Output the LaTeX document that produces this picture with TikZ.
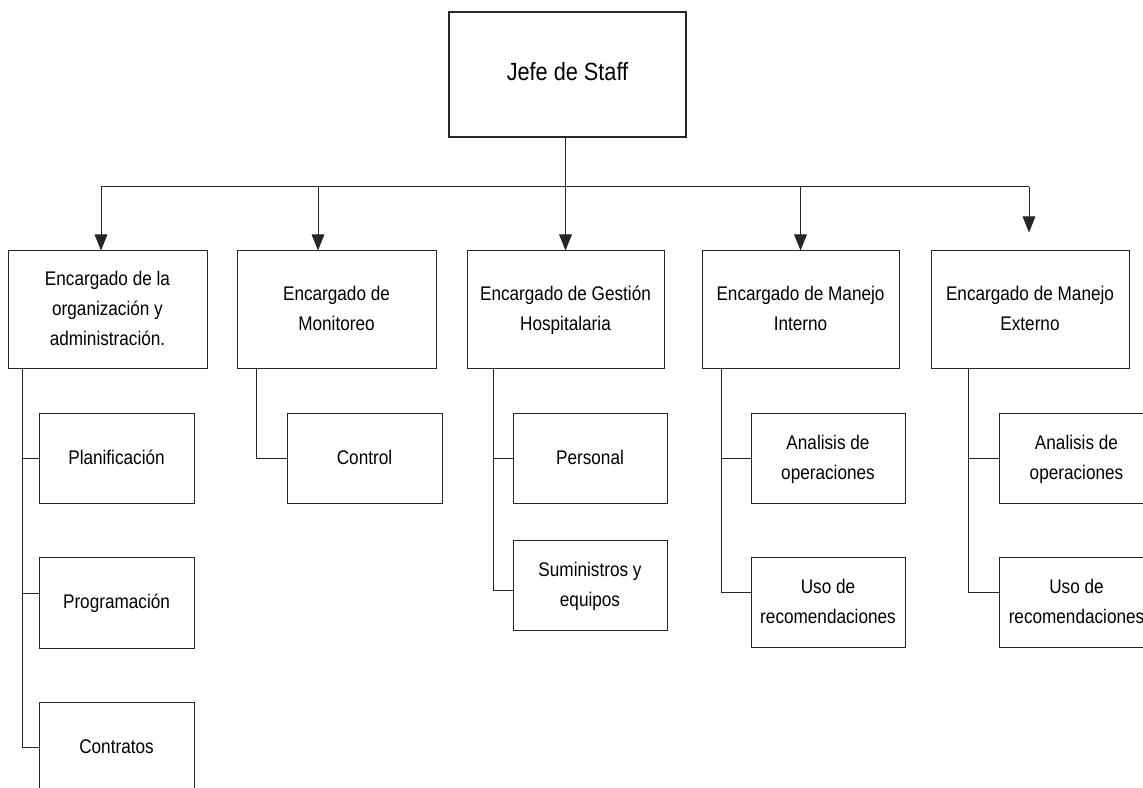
\documentclass[tikz,border=0pt]{standalone}
\usepackage{fontspec}
\setmainfont{Liberation Sans}[FakeStretch=0.87]
\usetikzlibrary{arrows.meta,fit}
% centred stack of lines with uniform row struts
\newcommand{\boxtext}[1]{\begin{tabular}{@{}c@{}}#1\end{tabular}}
\begin{document}
\begin{tikzpicture}[x=0.75pt,y=-0.75pt,
  line/.style={draw=black!85,line width=0.75pt},
  arr/.style={line,-{Triangle[length=12pt,width=9.5pt]}},
  box/.style={line,fill=white,inner sep=0pt},
  headbox/.style={box,line width=1.5pt},
  txt/.style={inner sep=0pt,anchor=center,
    font=\fontsize{14.8}{22.5}\selectfont},
  headtxt/.style={txt,font=\fontsize{18.7}{22.5}\selectfont}]
\useasboundingbox (0,0) rectangle (1143,788);
\clip (0,0) rectangle (1143,788);
\fill[white] (0,0) rectangle (1143,788);

% frames
\node[headbox,fit={(449,12) (686,137)}] (jefe) {};
\node[box,fit={(8,251) (207,368)}] (org) {};
\node[box,fit={(237,251) (436,368)}] (mon) {};
\node[box,fit={(467,251) (664,368)}] (ges) {};
\node[box,fit={(702,251) (899,368)}] (int) {};
\node[box,fit={(931,251) (1129,368)}] (ext) {};
\node[box,fit={(39,413) (194,503)}] (pla) {};
\node[box,fit={(39,557) (194,648)}] (pro) {};
\node[box,fit={(39,702) (194,792)}] (con) {};
\node[box,fit={(287,413) (442,503)}] (ctl) {};
\node[box,fit={(513,413) (667,503)}] (per) {};
\node[box,fit={(513,540) (667,630)}] (sum) {};
\node[box,fit={(751,413) (905,503)}] (ain) {};
\node[box,fit={(751,557) (905,647)}] (uin) {};
\node[box,fit={(999,413) (1154,503)}] (aex) {};
\node[box,fit={(999,557) (1154,647)}] (uex) {};

% labels
\node[headtxt] (jefeT) at (jefe.center) {\boxtext{Jefe de Staff}};
\node[txt] (orgT) at (org.center) {\boxtext{Encargado de la\\organización y\\administración.}};
\node[txt] (monT) at (mon.center) {\boxtext{Encargado de\\Monitoreo}};
\node[txt] (gesT) at (ges.center) {\boxtext{Encargado de Gestión\\Hospitalaria}};
\node[txt] (intT) at (int.center) {\boxtext{Encargado de Manejo\\Interno}};
\node[txt] (extT) at (ext.center) {\boxtext{Encargado de Manejo\\Externo}};
\node[txt] (plaT) at (pla.center) {\boxtext{Planificación}};
\node[txt] (proT) at (pro.center) {\boxtext{Programación}};
\node[txt] (conT) at (con.center) {\boxtext{Contratos}};
\node[txt] (ctlT) at (ctl.center) {\boxtext{Control}};
\node[txt] (perT) at (per.center) {\boxtext{Personal}};
\node[txt] (sumT) at (sum.center) {\boxtext{Suministros y\\equipos}};
\node[txt] (ainT) at (ain.center) {\boxtext{Analisis de\\operaciones}};
\node[txt] (uinT) at (uin.center) {\boxtext{Uso de\\recomendaciones}};
\node[txt] (aexT) at (aex.center) {\boxtext{Analisis de\\operaciones}};
\node[txt] (uexT) at (uex.center) {\boxtext{Uso de\\recomendaciones}};

% distribution bus
\coordinate (b1) at (101,187);
\coordinate (b2) at (318,187);
\coordinate (b5) at (1029,187);
\draw[line] (b1) -- (b5);
\draw[arr] (jefe.south -| ges.north) -- (ges.north);
\draw[arr] (b1) -- (b1 |- org.north);
\draw[arr] (b2) -- (b2 |- mon.north);
\draw[arr] (int.north |- b1) -- (int.north);
\draw[arr] (b5) -- ([yshift=13.5pt]b5 |- ext.north);

% branch trunks
\coordinate (t1) at (22,0);
\coordinate (t2) at (256,0);
\coordinate (t3) at (493,0);
\coordinate (t4) at (721,0);
\coordinate (t5) at (968,0);
\draw[line] (org.south -| t1) |- (pla.west);
\draw[line] (org.south -| t1) |- ([yshift=7pt]pro.west);
\draw[line] (org.south -| t1) |- (con.west);
\draw[line] (mon.south -| t2) |- (ctl.west);
\draw[line] (ges.south -| t3) |- (per.west);
\draw[line] (ges.south -| t3) |- ([yshift=-3.75pt]sum.west);
\draw[line] (int.south -| t4) |- (ain.west);
\draw[line] (int.south -| t4) |- ([yshift=7pt]uin.west);
\draw[line] (ext.south -| t5) |- (aex.west);
\draw[line] (ext.south -| t5) |- ([yshift=7pt]uex.west);
\end{tikzpicture}
\end{document}
